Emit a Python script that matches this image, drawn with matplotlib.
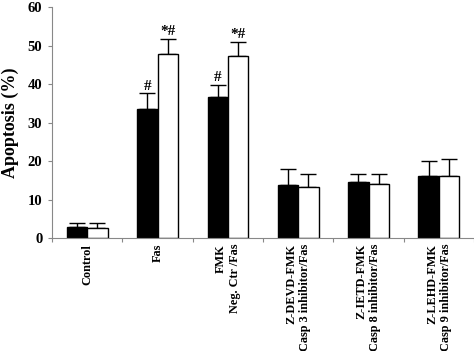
import numpy as np
import matplotlib
matplotlib.use("Agg")
import matplotlib.pyplot as plt

# Data
categories = [
    "Control",
    "Fas",
    "FMK\nNeg. Ctr /Fas",
    "Z-DEVD-FMK\nCasp 3 inhibitor/Fas",
    "Z-IETD-FMK\nCasp 8 inhibitor/Fas",
    "Z-LEHD-FMK\nCasp 9 inhibitor/Fas",
]
black_vals = [2.9, 33.6, 36.7, 13.8, 14.7, 16.1]
black_err = [1.1, 4.1, 3.1, 4.1, 2.1, 3.9]
white_vals = [2.6, 47.9, 47.3, 13.3, 14.2, 16.1]
white_err = [1.4, 4.0, 3.8, 3.3, 2.5, 4.4]
black_marks = ["", "#", "#", "", "", ""]
white_marks = ["", "*#", "*#", "", "", ""]
yticks = [0, 10, 20, 30, 40, 50, 60]

plt.rcParams["font.family"] = ["Liberation Serif", "DejaVu Serif"]
plt.rcParams["font.weight"] = "bold"

fig = plt.figure(figsize=(4.74, 3.51), dpi=100)
ax = fig.add_axes([0.11, 0.321, 0.89, 0.658])

x = np.arange(len(categories))
w = 0.29

ax.bar(x - w / 2, black_vals, w, color="black", edgecolor="black", linewidth=1, zorder=2)
ax.bar(x + w / 2, white_vals, w, color="white", edgecolor="black", linewidth=1, zorder=2)

# one-sided error bars (upward only)
zeros = np.zeros(len(x))
ax.errorbar(x - w / 2, black_vals, yerr=[zeros, black_err], fmt="none",
            ecolor="black", elinewidth=1, capsize=5.5, capthick=1, zorder=1)
ax.errorbar(x + w / 2, white_vals, yerr=[zeros, white_err], fmt="none",
            ecolor="black", elinewidth=1, capsize=5.5, capthick=1, zorder=1)

for i in range(len(x)):
    if black_marks[i]:
        ax.annotate(black_marks[i], (x[i] - w / 2, black_vals[i] + black_err[i]),
                    xytext=(0, 0.5), textcoords="offset points",
                    ha="center", va="bottom", fontsize=11, fontweight="bold")
    if white_marks[i]:
        ax.annotate(white_marks[i], (x[i] + w / 2, white_vals[i] + white_err[i]),
                    xytext=(0, 0.5), textcoords="offset points",
                    ha="center", va="bottom", fontsize=11, fontweight="bold")

ax.set_xlim(-0.5, len(categories) - 0.5)
ax.set_ylim(0, 60)
ax.set_yticks(yticks)
ax.set_yticklabels([str(t) for t in yticks], fontsize=10.5, fontweight="bold")

# ticks at category boundaries, labels at centres
ax.set_xticks(np.arange(len(categories) + 1) - 0.5)
ax.set_xticklabels([])
ax.set_xticks(x, minor=True)
ax.set_xticklabels(categories, minor=True, rotation=90, fontsize=8.8,
                   fontweight="bold", ha="center", va="top", multialignment="right")
ax.tick_params(axis="x", which="minor", length=0, pad=4)
ax.tick_params(axis="x", which="major", length=3, color="#888888")
ax.tick_params(axis="y", length=3, color="#888888", pad=4)

ax.set_ylabel("Apoptosis (%)", fontsize=13, fontweight="bold", labelpad=6)

ax.spines["top"].set_visible(False)
ax.spines["right"].set_visible(False)
ax.spines["left"].set_color("#888888")
ax.spines["bottom"].set_color("#888888")

fig.savefig("out.png", dpi=100)
